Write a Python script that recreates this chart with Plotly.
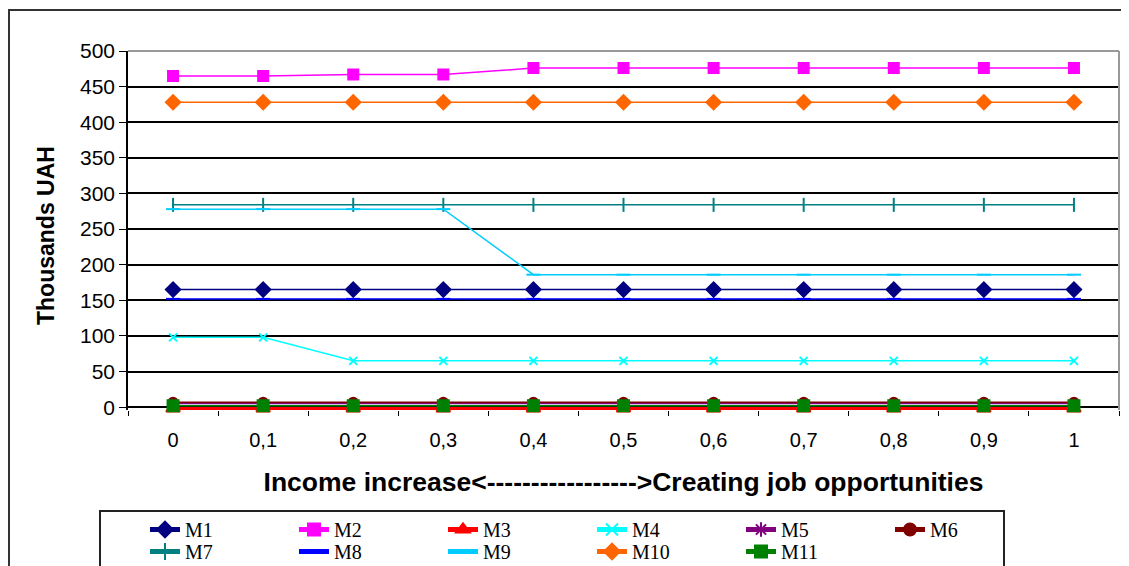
import plotly.graph_objects as go

categories = ["0", "0,1", "0,2", "0,3", "0,4", "0,5", "0,6", "0,7", "0,8", "0,9", "1"]

M1 = [165, 165, 165, 165, 165, 165, 165, 165, 165, 165, 165]
M2 = [465, 465, 467, 467, 476, 476, 476, 476, 476, 476, 476]
M3 = [-2, -2, -2, -2, -2, -2, -2, -2, -2, -2, -2]
M4 = [98, 98, 65, 65, 65, 65, 65, 65, 65, 65, 65]
M5 = [5, 5, 5, 5, 5, 5, 5, 5, 5, 5, 5]
M6 = [7, 7, 7, 7, 7, 7, 7, 7, 7, 7, 7]
M7 = [284, 284, 284, 284, 284, 284, 284, 284, 284, 284, 284]
M8 = [152, 152, 152, 152, 152, 152, 152, 152, 152, 152, 152]
M9 = [278, 278, 278, 278, 186, 186, 186, 186, 186, 186, 186]
M10 = [428, 428, 428, 428, 428, 428, 428, 428, 428, 428, 428]
M11 = [2, 2, 2, 2, 2, 2, 2, 2, 2, 2, 2]

series = [
    ("M1", M1, "#000080", "diamond", 11, 1.5, "legend"),
    ("M2", M2, "#FF00FF", "square", 10, 1.5, "legend"),
    ("M3", M3, "#FF0000", "triangle-up", 12, 3, "legend"),
    ("M4", M4, "#00FFFF", "x-thin-open", 8, 1.5, "legend"),
    ("M5", M5, "#800080", "asterisk-open", 8, 1.5, "legend"),
    ("M6", M6, "#800000", "circle", 9, 1.5, "legend"),
    ("M7", M7, "#008080", "line-ns-open", 10, 1.5, "legend2"),
    ("M8", M8, "#0000FF", "line-ew-open", 10, 1.5, "legend2"),
    ("M9", M9, "#00CCFF", "line-ew-open", 10, 1.5, "legend2"),
    ("M10", M10, "#FF6600", "diamond", 11, 1.5, "legend2"),
    ("M11", M11, "#008000", "square", 11, 1.5, "legend2"),
]

fig = go.Figure()
for name, vals, color, sym, size, lw, lg in series:
    fig.add_trace(go.Scatter(
        x=categories, y=vals, name=name, mode="lines+markers",
        line=dict(color=color, width=lw),
        marker=dict(symbol=sym, size=size, color=color,
                    line=dict(color=color, width=2)),
        cliponaxis=False, legend=lg,
    ))

# page body has an 8px margin; work in reference-pixel coords and shift
OFF = 8
W, H = 1129 - OFF, 566 - OFF
L, R, T, B = 128 - OFF, 1119 - OFF, 51 - OFF, 410 - OFF
pw, ph = R - L, B - T

def px(x):
    return (x - OFF - L) / pw

def py(y):
    return (B - (y - OFF)) / ph

legend_common = dict(
    orientation="h", xanchor="left", yanchor="top",
    borderwidth=0, bgcolor="rgba(0,0,0,0)",
    font=dict(family="Liberation Serif, Times New Roman", size=20, color="black"),
    entrywidth=104, entrywidthmode="pixels",
    tracegroupgap=0, itemsizing="constant",
)

fig.update_layout(
    width=W, height=H,
    margin=dict(l=L, r=W - R, t=T, b=H - B, autoexpand=False),
    paper_bgcolor="white", plot_bgcolor="white",
    font=dict(family="Liberation Sans, Arial", size=20, color="black"),
    showlegend=True,
    legend=dict(x=px(145), y=py(510), **legend_common),
    legend2=dict(x=px(145), y=py(532), **legend_common),
    xaxis=dict(
        type="category", range=[-0.5, len(categories) - 0.5],
        tickson="boundaries", ticks="outside", ticklen=5,
        tickcolor="black", showline=False, showgrid=False, automargin=False,
        tickfont=dict(size=20), ticklabelstandoff=16,
        title=dict(text="<b>Income increase<----------------->Creating job opportunities</b>",
                   font=dict(size=26.5), standoff=22),
    ),
    yaxis=dict(
        range=[-4, 500], tickvals=[0, 50, 100, 150, 200, 250, 300, 350, 400, 450, 500],
        ticks="outside", ticklen=7, tickcolor="black", automargin=False,
        showline=True, linecolor="black", linewidth=1.5,
        showgrid=True, gridcolor="black", gridwidth=1.5,
        zeroline=True, zerolinecolor="black", zerolinewidth=1.5,
        tickfont=dict(size=21),
    ),
    annotations=[
        dict(text="<b>Thousands UAH</b>", textangle=-90, showarrow=False,
             xref="paper", yref="paper", x=px(46), y=py(236),
             xanchor="center", yanchor="middle", font=dict(size=23)),
    ],
    shapes=[
        dict(type="line", xref="paper", yref="paper", x0=0, x1=1, y0=1, y1=1,
             line=dict(color="#999999", width=2), layer="above"),
        dict(type="line", xref="paper", yref="paper", x0=1, x1=1, y0=0, y1=1,
             line=dict(color="#999999", width=2), layer="above"),
        dict(type="rect", xref="paper", yref="paper", x0=px(9), x1=px(1140),
             y0=py(600), y1=py(10), line=dict(color="#333333", width=2), layer="below"),
        dict(type="rect", xref="paper", yref="paper", x0=px(100), x1=px(1004),
             y0=py(600), y1=py(511), line=dict(color="#222222", width=2), layer="below"),
    ],
)

fig.write_html("out.html")
